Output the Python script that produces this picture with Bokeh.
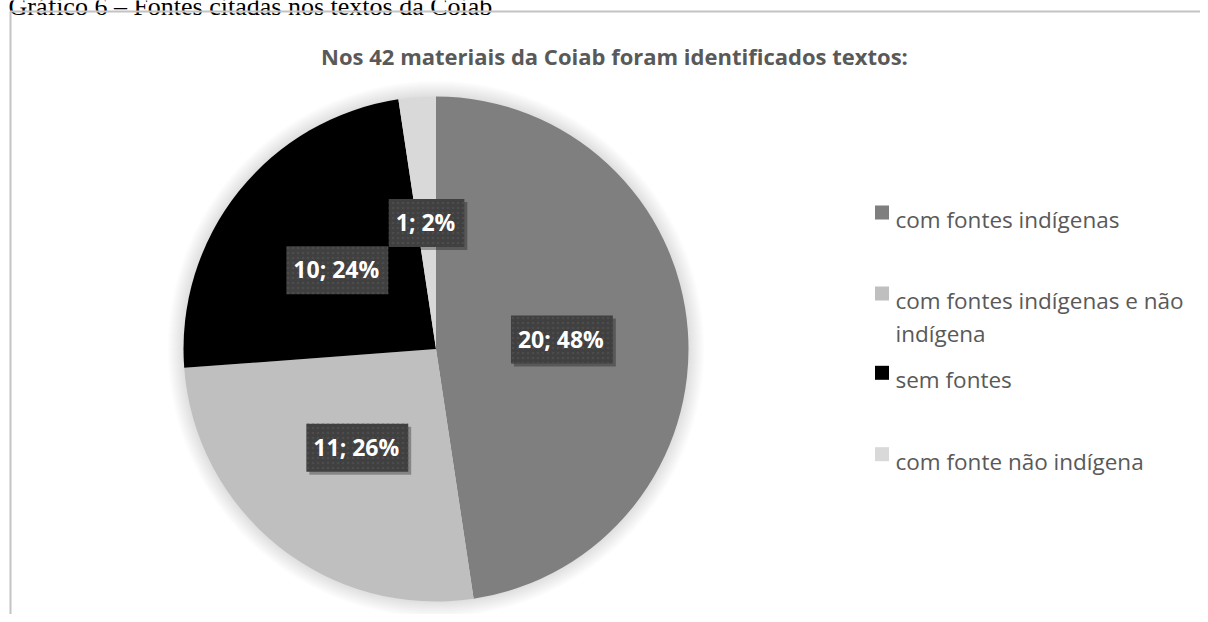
import textwrap
import numpy as np
from bokeh.plotting import figure
from bokeh.models import Range1d, ColumnDataSource
from bokeh.core.properties import value
from bokeh.embed import file_html
from bokeh.resources import INLINE

# ---------------- data ----------------
caption = "Gráfico 6 – Fontes citadas nos textos da Coiab"
title = "Nos 42 materiais da Coiab foram identificados textos:"
categories = [
    "com fontes indígenas",
    "com fontes indígenas e não indígena",
    "sem fontes",
    "com fonte não indígena",
]
counts = [20, 11, 10, 1]
colors = ["#7f7f7f", "#bfbfbf", "#000000", "#d9d9d9"]

# ---------------- canvas ----------------
W, H = 1200, 614


def Y(py):
    return H - py


p = figure(width=W, height=H, x_range=Range1d(0, W), y_range=Range1d(0, H),
           output_backend="svg", toolbar_location=None, min_border=0,
           x_axis_location=None, y_axis_location=None)
p.grid.visible = False
p.outline_line_color = None
p.background_fill_color = "white"
p.border_fill_color = "white"

# caption (clipped at the top, as in the source)
p.text(x=[8], y=[Y(6)], text=[caption], text_font=value("Liberation Serif"),
       text_font_size="26px", text_color="black", text_baseline="alphabetic",
       text_align="left")

# chart frame
p.line(x=[10, 10, 1400], y=[Y(800), Y(11), Y(11)], line_color="#c3c3c3", line_width=2)

# title
p.text(x=[614], y=[Y(55)], text=[title], text_font=value("Open Sans"),
       text_font_style="bold", text_font_size="22px", text_color="#595959",
       text_align="center", text_baseline="alphabetic")

# ---------------- pie ----------------
total = sum(counts)
frac = np.array(counts, dtype=float) / total
cum = np.concatenate([[0.0], np.cumsum(frac)])
start = np.pi / 2 - 2 * np.pi * cum[1:]
end = np.pi / 2 - 2 * np.pi * cum[:-1]
cx, cy, R = 435.5, Y(348.5), 252.5

# soft glow around the pie
for k in range(1, 17):
    p.circle(x=[cx], y=[cy], radius=R + k, fill_color="black", fill_alpha=0.008,
             line_color=None)

src = ColumnDataSource(dict(start=start, end=end, color=colors, cat=categories))
p.wedge(x=cx, y=cy, radius=R, start_angle="start", end_angle="end",
        fill_color="color", line_color=None, source=src)

# data labels
mid = np.pi / 2 - 2 * np.pi * (cum[:-1] + frac / 2)
lx = cx + 0.5 * R * np.cos(mid)
ly = cy + 0.5 * R * np.sin(mid)
labels = [f"{c}; {round(100 * f)}%" for c, f in zip(counts, frac)]
lsrc = ColumnDataSource(dict(x=lx, y=ly, t=labels))
common = dict(x="x", y="y", text="t", source=lsrc, text_font=value("Open Sans"),
              text_font_style="bold", text_font_size="23px", text_align="center",
              text_baseline="middle", padding=(7, 9, 7, 9))
p.text(x_offset=3, y_offset=3, text_alpha=0, background_fill_color="black",
       background_fill_alpha=0.3, **common)
p.text(text_color="white", background_fill_color="#404040",
       background_hatch_pattern="dot", background_hatch_color="#4c4c4c",
       background_hatch_scale=5, background_hatch_weight=1, **common)

# ---------------- legend ----------------
baselines = [219, 300, 379.3, 460.7]
line_gap = 32.5
sq_x, txt_x = 881.5, 895
p.scatter(x=[sq_x] * len(categories), y=[Y(b - 7) for b in baselines], marker="square",
          size=14, fill_color=colors, line_color=None)
tx, ty, tt = [], [], []
for cat, b in zip(categories, baselines):
    for i, line in enumerate(textwrap.wrap(cat, 26)):
        tx.append(txt_x)
        ty.append(Y(b + i * line_gap))
        tt.append(line)
p.text(x=tx, y=ty, text=tt, text_font=value("Open Sans"), text_font_size="22.5px",
       text_color="#595959", text_align="left", text_baseline="alphabetic")

open("out.html", "w").write(file_html(p, INLINE))
